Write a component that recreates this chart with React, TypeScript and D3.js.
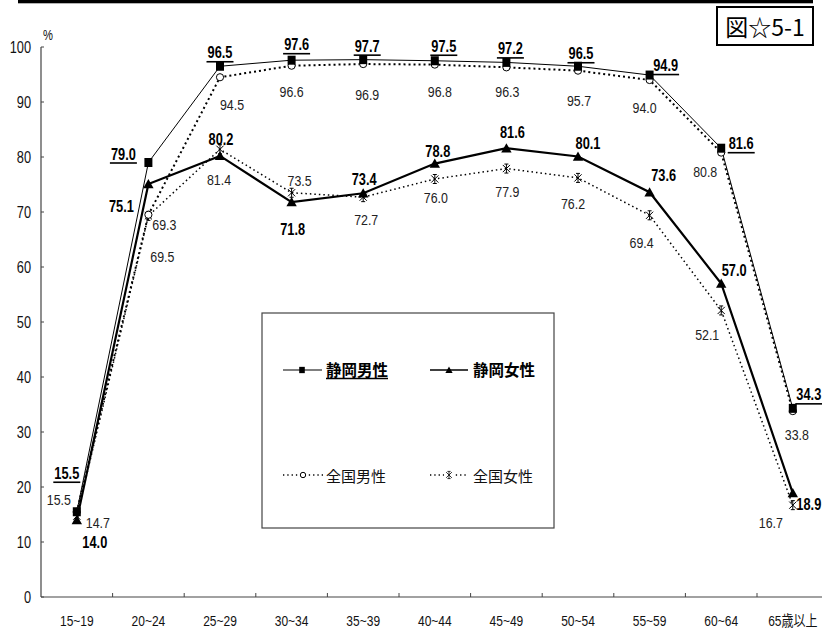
import React from 'react';
import * as d3 from 'd3';

// ---------- data ----------
const categories = ['15~19', '20~24', '25~29', '30~34', '35~39', '40~44', '45~49', '50~54', '55~59', '60~64', '65歳以上'];
const shizuokaMale = [15.5, 79.0, 96.5, 97.6, 97.7, 97.5, 97.2, 96.5, 94.9, 81.6, 34.3];
const shizuokaFemale = [14.0, 75.1, 80.2, 71.8, 73.4, 78.8, 81.6, 80.1, 73.6, 57.0, 18.9];
const nationalMale = [15.5, 69.5, 94.5, 96.6, 96.9, 96.8, 96.3, 95.7, 94.0, 80.8, 33.8];
const nationalFemale = [14.7, 69.3, 81.4, 73.5, 72.7, 76.0, 77.9, 76.2, 69.4, 52.1, 16.7];
const yTicks = [0, 10, 20, 30, 40, 50, 60, 70, 80, 90, 100];
const seriesNames = ['静岡男性', '静岡女性', '全国男性', '全国女性'];
const figureLabel = '図☆5-1';

// ---------- label placement (offset of label centre/baseline from its point) ----------
const smOff: [number, number][] = [[-10, -33], [-25, -3], [0, -8], [5, -10], [4, -8], [9, -9], [4, -8], [3, -7], [16, -4], [20, 1], [16, -8]];
const sfOff: [number, number][] = [[18, 28], [-27, 28], [1, -11], [1, 33], [1, -8], [3, -7], [6, -10], [10, -7], [14, -11], [13, -8], [16, 17]];
const nmOff: [number, number][] = [[-18, -7], [14, 47], [12, 33], [0, 31], [4, 36], [5, 32], [1, 30], [1, 35], [-5, 33], [-16, 24], [4, 29]];
const nfOff: [number, number][] = [[21, 12], [16, 14], [-1, 36], [8, -7], [3, 28], [1, 24], [1, 28], [-5, 31], [-8, 33], [-14, 30], [-22, 23]];

const NUM_FONT = "'Liberation Sans', Arial, 'Noto Sans CJK JP', sans-serif";
const CJK_FONT = "'Noto Sans CJK JP', sans-serif";
const SX = 0.8;

const x = d3.scaleBand<string>().domain(categories).range([41, 41 + 11 * 71.6]).padding(0);
const y = d3.scaleLinear().domain([0, 100]).range([597, 47]);
const px = (i: number) => (x(categories[i]) as number) + x.bandwidth() / 2;

const lineGen = d3
  .line<number>()
  .x((_, i) => px(i))
  .y((d) => y(d));

const squarePath = 'M-4,-4.5H4V4.5H-4Z';
const trianglePath = 'M0,-5L5.2,4.2H-5.2Z';
const asteriskPath = 'M0,-4.5V4.5M-3.6,-3.6L3.6,3.6M-3.6,3.6L3.6,-3.6M-2,-4.5H2M-2,4.5H2';

function Marker({ kind, cx, cy, scale = 1 }: { kind: string; cx: number; cy: number; scale?: number }) {
  const t = `translate(${cx},${cy}) scale(${scale})`;
  if (kind === 'square') return <path d={squarePath} transform={t} fill="#000" />;
  if (kind === 'triangle') return <path d={trianglePath} transform={t} fill="#000" />;
  if (kind === 'circle') return <circle cx={cx} cy={cy} r={3.6 * scale} fill="#fff" stroke="#000" strokeWidth={1} />;
  return <path d={asteriskPath} transform={t} fill="none" stroke="#000" strokeWidth={1} />;
}

function NText({
  x: tx,
  y: ty,
  children,
  anchor = 'middle',
  size = 16,
  bold = false,
  fill = '#111',
}: {
  x: number;
  y: number;
  children: React.ReactNode;
  anchor?: string;
  size?: number;
  bold?: boolean;
  fill?: string;
}) {
  return (
    <g transform={`translate(${tx},${ty}) scale(${SX},1)`}>
      <text x={0} y={0} textAnchor={anchor} fontFamily={NUM_FONT} fontSize={size} fontWeight={bold ? 'bold' : 'normal'} fill={fill}>
        {children}
      </text>
    </g>
  );
}

export default function App() {
  const xTickPositions = categories.map((c) => x(c) as number).slice(1);
  return (
    <svg width={822} height={630} style={{ position: 'absolute', left: 0, top: 0, background: '#fff' }}>
      <rect x={0} y={0} width={822} height={630} fill="#fff" />
      {/* top bar */}
      <rect x={18} y={0} width={795} height={3.3} fill="#000" />
      {/* figure label */}
      <rect x={717} y={7} width={96} height={38} fill="#fff" stroke="#000" strokeWidth={2} />
      <text x={765} y={36} textAnchor="middle" fontFamily={CJK_FONT} fontSize={23} fill="#000">
        {figureLabel}
      </text>

      {/* axes */}
      <line x1={41} x2={41} y1={y(100)} y2={y(0)} stroke="#444" strokeWidth={1.2} />
      <line x1={41} x2={822} y1={y(0)} y2={y(0)} stroke="#444" strokeWidth={1.2} />
      {yTicks.map((t) => (
        <g key={t}>
          <line x1={41} x2={44} y1={y(t)} y2={y(t)} stroke="#444" strokeWidth={1} />
          <NText x={31} y={y(t) + 6} anchor="end" size={16}>
            {t}
          </NText>
        </g>
      ))}
      <NText x={48} y={40} size={14}>
        %
      </NText>
      {xTickPositions.map((p, i) => (
        <line key={i} x1={p} x2={p} y1={y(0)} y2={y(0) - 4} stroke="#444" strokeWidth={1} />
      ))}
      {categories.map((c, i) => (
        <NText key={c} x={px(i)} y={626} size={15}>
          {c}
        </NText>
      ))}

      {/* lines */}
      <path d={lineGen(nationalFemale) || ''} fill="none" stroke="#000" strokeWidth={1.5} strokeDasharray="1.5,3" />
      <path d={lineGen(nationalMale) || ''} fill="none" stroke="#000" strokeWidth={2} strokeDasharray="2,3" />
      <path d={lineGen(shizuokaMale) || ''} fill="none" stroke="#000" strokeWidth={1} />
      <path d={lineGen(shizuokaFemale) || ''} fill="none" stroke="#000" strokeWidth={2.2} />

      {/* markers */}
      {nationalFemale.map((v, i) => (
        <Marker key={'nf' + i} kind="asterisk" cx={px(i)} cy={y(v)} />
      ))}
      {nationalMale.map((v, i) => (
        <Marker key={'nm' + i} kind="circle" cx={px(i)} cy={y(v)} />
      ))}
      {shizuokaFemale.map((v, i) => (
        <Marker key={'sf' + i} kind="triangle" cx={px(i)} cy={y(v)} />
      ))}
      {shizuokaMale.map((v, i) => (
        <Marker key={'sm' + i} kind="square" cx={px(i)} cy={y(v)} />
      ))}

      {/* labels */}
      {nationalMale.map((v, i) => (
        <NText key={'lnm' + i} x={px(i) + nmOff[i][0]} y={y(v) + nmOff[i][1]} size={15.5} fill="#222">
          {v.toFixed(1)}
        </NText>
      ))}
      {nationalFemale.map((v, i) => (
        <NText key={'lnf' + i} x={px(i) + nfOff[i][0]} y={y(v) + nfOff[i][1]} size={15.5} fill="#222">
          {v.toFixed(1)}
        </NText>
      ))}
      {shizuokaFemale.map((v, i) => (
        <NText key={'lsf' + i} x={px(i) + sfOff[i][0]} y={y(v) + sfOff[i][1]} size={16} bold fill="#000">
          {v.toFixed(1)}
        </NText>
      ))}
      {shizuokaMale.map((v, i) => {
        const lx = px(i) + smOff[i][0];
        const ly = y(v) + smOff[i][1];
        return (
          <g key={'lsm' + i}>
            <NText x={lx} y={ly} size={16} bold fill="#000">
              {v.toFixed(1)}
            </NText>
            <line x1={lx - 13.5} x2={lx + 13.5} y1={ly + 3.5} y2={ly + 3.5} stroke="#000" strokeWidth={1.6} />
          </g>
        );
      })}

      {/* legend */}
      <rect x={262} y={313} width={292} height={215} fill="#fff" stroke="#444" strokeWidth={1.2} />
      {/* row 1 */}
      <line x1={283} x2={322} y1={370} y2={370} stroke="#000" strokeWidth={1.2} />
      <Marker kind="square" cx={302} cy={370} scale={0.7} />
      <text x={326} y={376} fontFamily={CJK_FONT} fontWeight="bold" fontSize={15.5} fill="#000">
        {seriesNames[0]}
      </text>
      <line x1={326} x2={388} y1={378.5} y2={378.5} stroke="#000" strokeWidth={1.4} />
      <line x1={430} x2={468} y1={370} y2={370} stroke="#000" strokeWidth={1.4} />
      <Marker kind="triangle" cx={449} cy={370} scale={0.7} />
      <text x={473} y={376} fontFamily={CJK_FONT} fontWeight="bold" fontSize={15.5} fill="#000">
        {seriesNames[1]}
      </text>
      {/* row 2 */}
      <line x1={283} x2={323} y1={475} y2={475} stroke="#000" strokeWidth={1.3} strokeDasharray="1.3,3" />
      <Marker kind="circle" cx={303} cy={475} scale={0.75} />
      <text x={326} y={482} fontFamily={CJK_FONT} fontSize={15} fill="#111">
        {seriesNames[2]}
      </text>
      <line x1={430} x2={468} y1={475} y2={475} stroke="#000" strokeWidth={1.3} strokeDasharray="1.3,3" />
      <rect x={444} y={469} width={10} height={12} fill="#fff" />
      <Marker kind="asterisk" cx={449} cy={475} scale={0.8} />
      <text x={473} y={482} fontFamily={CJK_FONT} fontSize={15} fill="#111">
        {seriesNames[3]}
      </text>
    </svg>
  );
}
